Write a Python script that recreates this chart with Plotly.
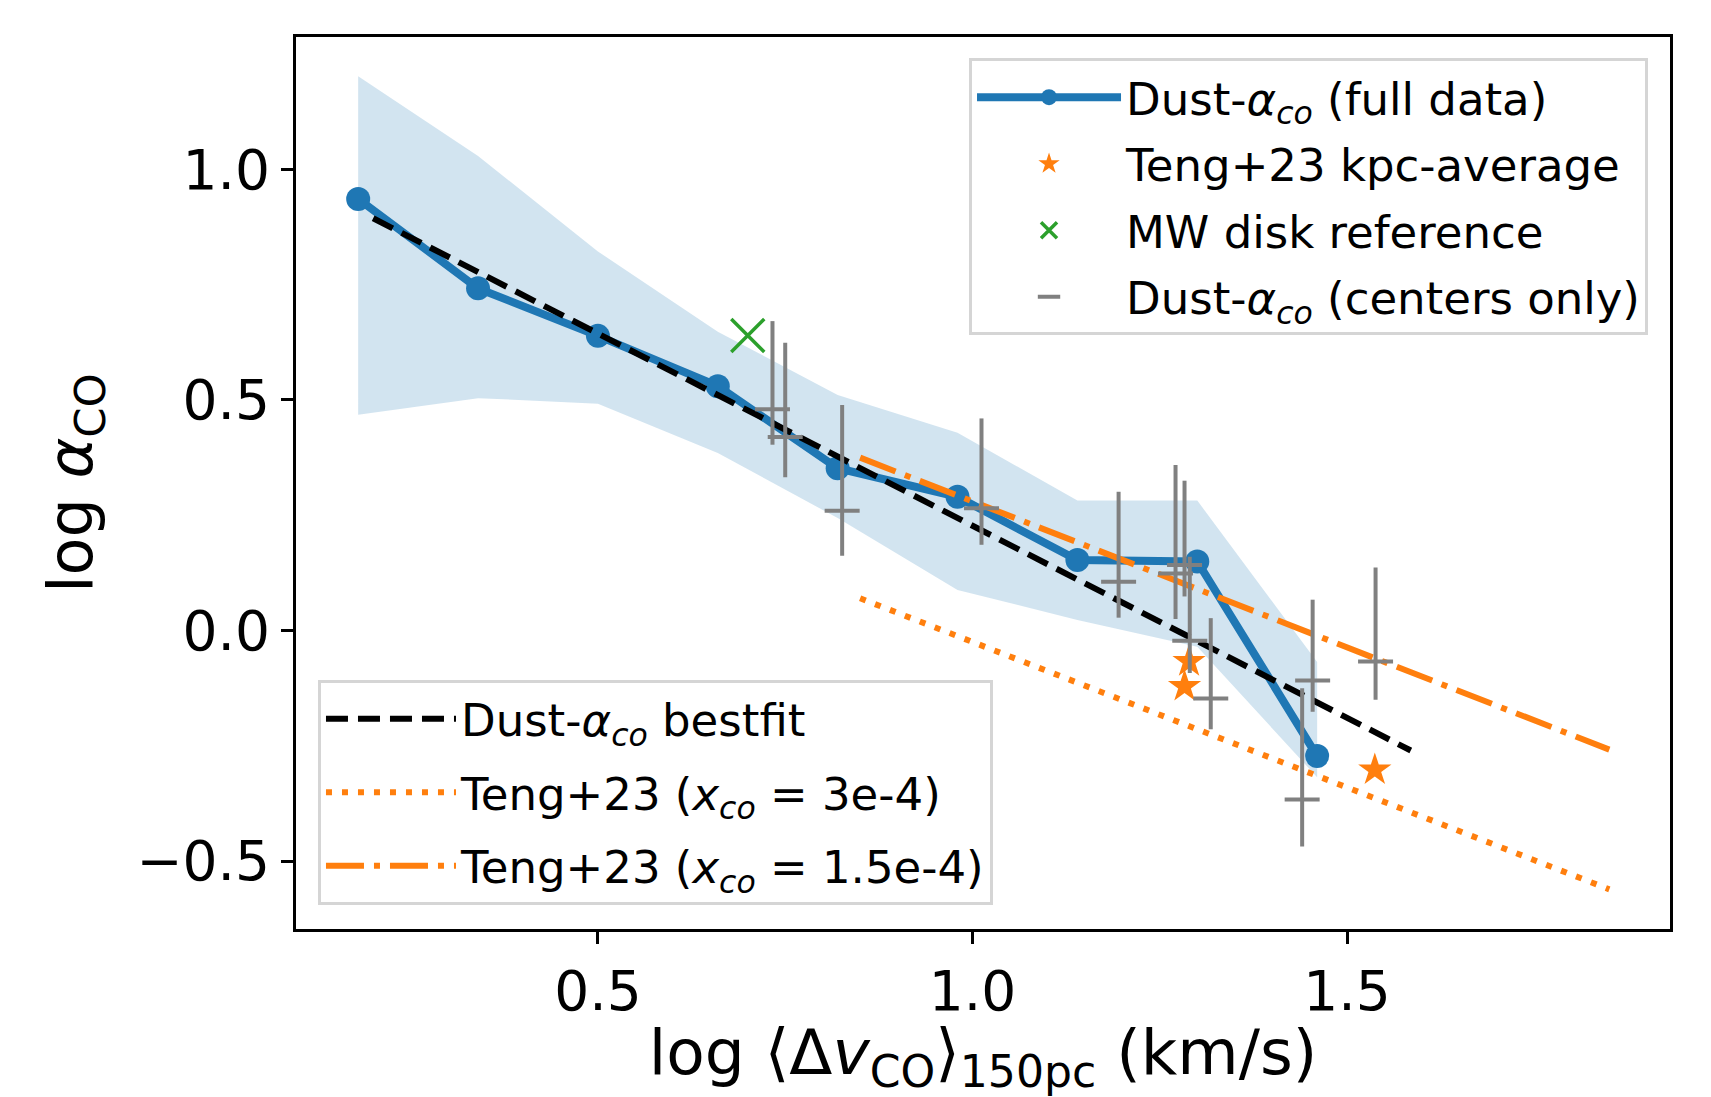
import plotly.graph_objects as go

# ---- data ----
bin_x = [0.18, 0.34, 0.50, 0.66, 0.82, 0.98, 1.14, 1.30, 1.46]
bin_y = [0.936, 0.742, 0.639, 0.530, 0.352, 0.290, 0.153, 0.150, -0.272]
band_upper = [1.202, 1.029, 0.822, 0.648, 0.511, 0.429, 0.282, 0.282, -0.068]
band_lower = [0.468, 0.504, 0.492, 0.385, 0.244, 0.088, 0.023, -0.035, -0.318]

fit_x = [0.20, 1.585]
fit_y = [0.894, -0.260]

teng_line_x = [0.85, 1.85]
teng_3e4_y = [0.070, -0.561]
teng_15e4_y = [0.375, -0.258]

teng_kpc_x = [1.283, 1.289, 1.537]
teng_kpc_y = [-0.121, -0.067, -0.302]

mw_x = [0.70]
mw_y = [0.64]

ctr_x = [0.733, 0.750, 0.826, 1.012, 1.195, 1.271, 1.283, 1.290, 1.318, 1.440, 1.454, 1.538]
ctr_y = [0.480, 0.420, 0.260, 0.265, 0.106, 0.124, 0.142, -0.022, -0.147, -0.366, -0.108, -0.067]
ctr_top = [0.671, 0.624, 0.489, 0.460, 0.301, 0.359, 0.325, 0.160, 0.027, -0.125, 0.067, 0.137]
ctr_bot = [0.403, 0.3325, 0.162, 0.186, 0.028, 0.025, 0.074, -0.092, -0.214, -0.468, -0.176, -0.150]

xticks = [0.5, 1.0, 1.5]
xticklabels = ["0.5", "1.0", "1.5"]
yticks = [-0.5, 0.0, 0.5, 1.0]
yticklabels = ["\u22120.5", "0.0", "0.5", "1.0"]

C0 = "#1f77b4"
C1 = "#ff7f0e"
C2 = "#2ca02c"
GRAY = "#808080"

err_plus = [t - y for t, y in zip(ctr_top, ctr_y)]
err_minus = [y - b for y, b in zip(ctr_y, ctr_bot)]

fig = go.Figure()

# shaded band
fig.add_trace(go.Scatter(x=bin_x, y=band_lower, mode="lines", line=dict(width=0),
                         showlegend=False, hoverinfo="skip"))
fig.add_trace(go.Scatter(x=bin_x, y=band_upper, mode="lines", line=dict(width=0),
                         fill="tonexty", fillcolor="rgba(31,119,180,0.2)",
                         showlegend=False, hoverinfo="skip"))

fig.add_trace(go.Scatter(x=bin_x, y=bin_y, mode="lines+markers",
                         line=dict(color=C0, width=8), marker=dict(color=C0, size=24),
                         name="Dust-<i>α<sub>co</sub></i> (full data)",
                         legend="legend", legendgroup="a"))

fig.add_trace(go.Scatter(x=fit_x, y=fit_y, mode="lines",
                         line=dict(color="black", width=6, dash="22px,10px"),
                         name="Dust-<i>α<sub>co</sub></i> bestfit",
                         legend="legend2", legendgroup="e"))
fig.add_trace(go.Scatter(x=teng_line_x, y=teng_3e4_y, mode="lines",
                         line=dict(color=C1, width=6, dash="6px,10px"),
                         name="Teng+23 (<i>x<sub>co</sub></i> = 3e-4)",
                         legend="legend2", legendgroup="f"))
fig.add_trace(go.Scatter(x=teng_line_x, y=teng_15e4_y, mode="lines",
                         line=dict(color=C1, width=6, dash="38px,10px,6px,10px"),
                         name="Teng+23 (<i>x<sub>co</sub></i> = 1.5e-4)",
                         legend="legend2", legendgroup="g"))

fig.add_trace(go.Scatter(x=teng_kpc_x, y=teng_kpc_y, mode="markers",
                         marker=dict(symbol="star", color=C1, size=25, line=dict(width=0)),
                         name="Teng+23 kpc-average", legend="legend", legendgroup="b"))
fig.add_trace(go.Scatter(x=mw_x, y=mw_y, mode="markers",
                         marker=dict(symbol="x-thin-open", color=C2, size=33,
                                     line=dict(color=C2, width=3.5)),
                         name="MW disk reference", legend="legend", legendgroup="c"))
fig.add_trace(go.Scatter(x=ctr_x, y=ctr_y, mode="markers",
                         marker=dict(symbol="line-ew", color=GRAY, size=25,
                                     line=dict(color=GRAY, width=4)),
                         error_y=dict(type="data", symmetric=False, array=err_plus,
                                      arrayminus=err_minus, color=GRAY, thickness=4, width=0),
                         name="Dust-<i>α<sub>co</sub></i> (centers only)",
                         legend="legend", legendgroup="d"))

axis_common = dict(showline=True, linecolor="black", linewidth=3, mirror=True,
                   ticks="outside", ticklen=12, tickwidth=2.5, tickcolor="black",
                   showgrid=False, zeroline=False, tickfont=dict(size=55, color="black"))

fig.update_layout(
    width=1711, height=1097,
    margin=dict(l=296, r=41, t=37, b=168),
    plot_bgcolor="white", paper_bgcolor="white",
    font=dict(family="DejaVu Sans", color="black"),
    xaxis=dict(range=[0.097, 1.931], tickvals=xticks, ticktext=xticklabels,
               title=dict(text="log ⟨Δ<i>v</i><sub>CO</sub>⟩<sub>150pc</sub> (km/s)",
                          font=dict(size=63), standoff=16),
               **axis_common),
    yaxis=dict(range=[-0.647, 1.287], tickvals=yticks, ticktext=yticklabels,
               title=dict(text="log <i>α</i><sub>CO</sub>", font=dict(size=62), standoff=24),
               **axis_common),
    legend=dict(x=0.984, xanchor="right", y=0.976, yanchor="top",
                bgcolor="rgba(255,255,255,0.85)", bordercolor="#d5d5d5", borderwidth=3,
                font=dict(size=45), tracegroupgap=5, itemwidth=144),
    legend2=dict(x=0.016, xanchor="left", y=0.027, yanchor="bottom",
                 bgcolor="rgba(255,255,255,0.85)", bordercolor="#d5d5d5", borderwidth=3,
                 font=dict(size=45), tracegroupgap=12, itemwidth=130),
    showlegend=True,
)

fig.write_html("out.html")
